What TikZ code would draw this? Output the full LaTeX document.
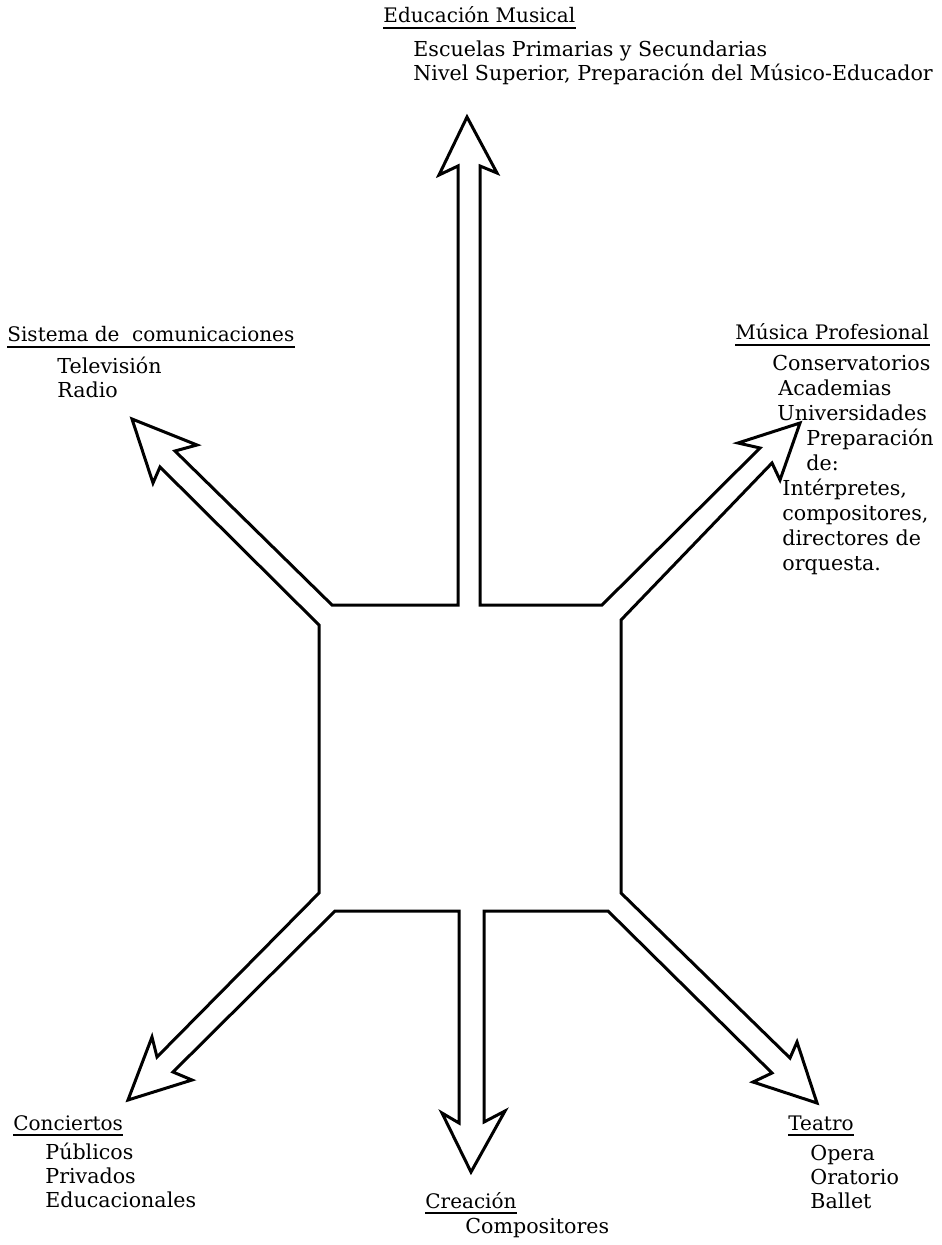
\documentclass[tikz,border=0pt]{standalone}
\usepackage{fontspec}
\setmainfont{DejaVu Serif}
\usetikzlibrary{positioning}

\begin{document}
\begin{tikzpicture}[x=0.5pt, y=-0.5pt,
  txt/.style={anchor=base west, inner sep=0pt, font=\fontsize{10}{12}\selectfont},
  lst/.style={txt, align=left, font=\fontsize{10.3}{12}\selectfont}]
\useasboundingbox (0,0) rectangle (941,1245);

% ---- the arrow star (one closed outline) -----------------------------------
\draw[line width=1.5pt]
  (467,117) -- (497,173) -- (480,166) -- (480,605) -- (602,605)
  -- (760,448) -- (738,443) -- (800,423) -- (780,480) -- (772,463)
  -- (621,620) -- (621,893) -- (790,1058) -- (797,1042) -- (817,1103)
  -- (753,1082) -- (772,1073) -- (608,911) -- (484,911) -- (484,1122)
  -- (505,1111) -- (471,1172) -- (442,1113) -- (459,1123) -- (459,911)
  -- (335,911) -- (173,1072) -- (192,1080) -- (128,1100) -- (152,1037)
  -- (157,1057) -- (319,893) -- (319,625) -- (160,467) -- (153,483)
  -- (132,419) -- (197,445) -- (175,451) -- (332,605) -- (458,605)
  -- (458,166) -- (439,175) -- cycle;

% ---- headings ----------------------------------------------------------------
\node[txt] (edu) at (383,23)   {Educación Musical};
\node[txt] (sis) at (7,342)    {Sistema de \ comunicaciones};
\node[txt] (pro) at (735,340)  {Música Profesional};
\node[txt] (con) at (13,1130)  {Conciertos};
\node[txt] (cre) at (425,1208) {Creación};
\node[txt] (tea) at (788,1130) {Teatro};
\foreach \n in {edu,sis,pro,con,cre,tea}
  \draw[line width=1.3pt] ([yshift=-2.5pt]\n.base west) -- ([yshift=-2.5pt]\n.base east);

% ---- lists (placed at the baseline of their last line) ----------------------
\node[lst] (eduList) at (413,81)
  {Escuelas Primarias y Secundarias\\Nivel Superior, Preparación del Músico-Educador};
\node[lst] (sisList) at (57,398) {Televisión\\Radio};
\node[lst, font=\fontsize{10.3}{12.5}\selectfont] (proList) at (772,570)
  {Conservatorios\\
   \hspace*{3pt}Academias\\
   \hspace*{2.5pt}Universidades\\
   \hspace*{17pt}Preparación\\
   \hspace*{17pt}de:\\
   \hspace*{5pt}Intérpretes,\\
   \hspace*{5pt}compositores,\\
   \hspace*{5pt}directores de\\
   \hspace*{5pt}orquesta.};
\node[lst] (conList) at (45,1207)  {Públicos\\Privados\\Educacionales};
\node[lst] (creList) at (465,1233) {Compositores};
\node[lst] (teaList) at (810,1208) {Opera\\Oratorio\\Ballet};

\end{tikzpicture}
\end{document}
